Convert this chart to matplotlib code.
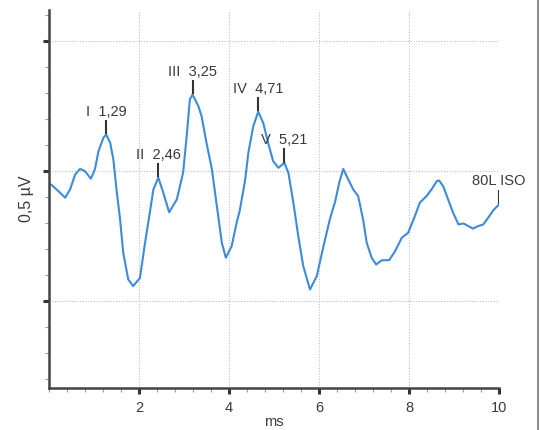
import numpy as np
import matplotlib.pyplot as plt
from matplotlib.lines import Line2D
from matplotlib.ticker import MultipleLocator

plt.rcParams['font.family'] = ['Liberation Sans', 'DejaVu Sans']

# traced response (ms, µV relative to the middle grid line)
t_ms = [0.0, 0.07, 0.21, 0.36, 0.47, 0.58, 0.69, 0.80, 0.93, 1.02,
        1.10, 1.21, 1.27, 1.36, 1.43, 1.50, 1.58, 1.65, 1.76, 1.87,
        2.02, 2.13, 2.24, 2.32, 2.43, 2.54, 2.67, 2.84, 2.98, 3.06,
        3.13, 3.19, 3.32, 3.39, 3.50, 3.62, 3.73, 3.84, 3.93, 4.06,
        4.17, 4.24, 4.36, 4.43, 4.54, 4.65, 4.76, 4.87, 4.98, 5.10,
        5.23, 5.32, 5.43, 5.54, 5.65, 5.80, 5.95, 6.10, 6.24, 6.36,
        6.45, 6.54, 6.65, 6.76, 6.87, 6.98, 7.06, 7.17, 7.27, 7.39,
        7.56, 7.69, 7.84, 7.98, 8.13, 8.24, 8.39, 8.50, 8.62, 8.67,
        8.76, 8.87, 8.98, 9.10, 9.21, 9.32, 9.42, 9.54, 9.65, 9.76,
        9.87, 10.0]
amp_uv = [-0.046, -0.054, -0.076, -0.101, -0.069, -0.012, 0.010, 0.001, -0.028, 0.008,
          0.078, 0.130, 0.142, 0.110, 0.046, -0.069, -0.185, -0.313, -0.415, -0.441,
          -0.410, -0.280, -0.159, -0.069, -0.024, -0.082, -0.157, -0.108, -0.005, 0.136,
          0.277, 0.296, 0.251, 0.213, 0.110, 0.008, -0.133, -0.274, -0.332, -0.287,
          -0.197, -0.150, -0.031, 0.072, 0.174, 0.230, 0.187, 0.110, 0.040, 0.014,
          0.033, -0.005, -0.120, -0.249, -0.364, -0.454, -0.403, -0.287, -0.185, -0.115,
          -0.043, 0.010, -0.031, -0.069, -0.095, -0.185, -0.274, -0.332, -0.358, -0.342,
          -0.341, -0.307, -0.255, -0.236, -0.172, -0.120, -0.095, -0.069, -0.037, -0.035,
          -0.057, -0.108, -0.159, -0.204, -0.200, -0.210, -0.220, -0.210, -0.204, -0.178,
          -0.150, -0.127]

# wave markers
latencies = [1.29, 2.46, 3.25, 4.71, 5.21, 10.0]
labels = ['I  1,29', 'II  2,46', 'III  3,25', 'IV  4,71', 'V  5,21', '80L ISO']

txt = '#3a3a3a'
fig = plt.figure(figsize=(5.4, 4.3), dpi=100)
ax = fig.add_axes([49/540, 42/430, 450/540, 378/430])

ax.plot(t_ms, amp_uv, color='#3d8bdb', lw=1.5, solid_joinstyle='round')

t = np.array(t_ms)
a = np.array(amp_uv)
for lat, lab in zip(latencies, labels):
    win = np.abs(t - lat) <= 0.1
    i = np.argmax(np.where(win, a, -np.inf))
    x, y = t[i], a[i]
    ax.plot([x, x], [y + 0.005, y + 0.053], color='#333333', lw=1.5)
    ax.text(x, y + 0.073, lab, ha='center', va='baseline', fontsize=10.5, color=txt)

ax.set_xlim(0, 10)
ax.set_ylim(-0.833, 0.621)

for v in [-0.5, 0, 0.5]:
    ax.plot([0, 10], [v, v], color='#bdbdbd', lw=0.8, ls=(0, (1, 1.5)), zorder=0)
for v in [2, 4, 6, 8, 10]:
    ax.axvline(v, color='#bdbdbd', lw=0.8, ls=(0, (1, 1.5)), zorder=0)

ax.xaxis.set_minor_locator(MultipleLocator(0.4))
ax.set_xticks([2, 4, 6, 8, 10])
ax.set_yticks([-0.5, 0, 0.5])
ax.yaxis.set_minor_locator(MultipleLocator(0.1))
ax.set_yticklabels([])
ax.tick_params(which='major', direction='out', length=4, width=2.2, color='#333333',
               labelsize=10.5, labelcolor=txt, pad=5)
ax.tick_params(which='minor', direction='out', length=3, width=0.8, color='#999999')

for s in ['top', 'right']:
    ax.spines[s].set_visible(False)
for s in ['left', 'bottom']:
    ax.spines[s].set_color('#444444')
    ax.spines[s].set_linewidth(1.8)

ax.set_xlabel('ms', fontsize=10.5, color=txt, labelpad=0)
ax.set_ylabel('0,5 µV', fontsize=11.5, color=txt, labelpad=2)

# scan border on the right
fig.add_artist(Line2D([537.5/540, 537.5/540], [0, 1], color='#777777', lw=1.2))

fig.savefig('out.png')
